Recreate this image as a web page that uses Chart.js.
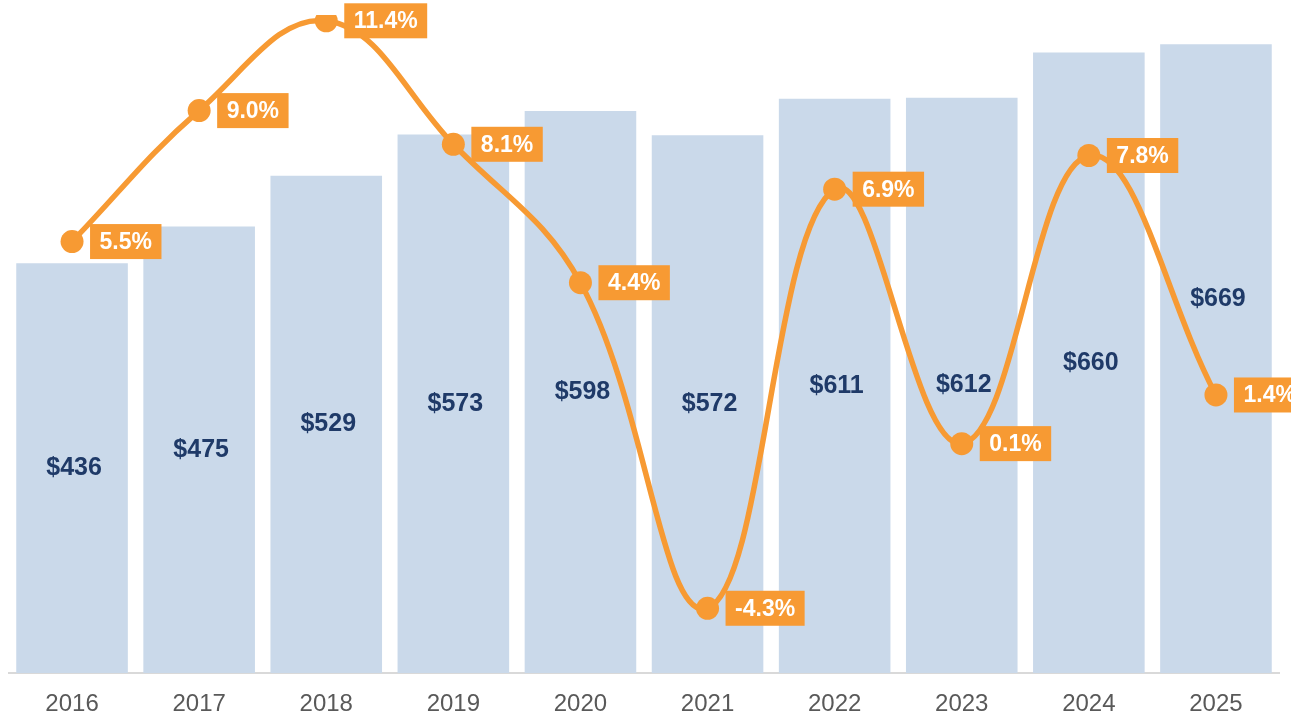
<!DOCTYPE html>
<html>
<head>
<meta charset="utf-8">
<script src="https://cdn.jsdelivr.net/npm/chart.js@4/dist/chart.umd.min.js"></script>
<style>
  html, body { margin: 0; padding: 0; background: #fff; overflow: hidden; }
  #wrap { width: 1294px; height: 715px; position: relative; left: -3px; }
</style>
</head>
<body>
<div id="wrap"><canvas id="salesChart"></canvas></div>
<script>
// --- data ---
const years = ['2016', '2017', '2018', '2019', '2020', '2021', '2022', '2023', '2024', '2025'];
const sales = [436, 475, 529, 573, 598, 572, 611, 612, 660, 669];
const growth = [5.5, 9.0, 11.4, 8.1, 4.4, -4.3, 6.9, 0.1, 7.8, 1.4];

const ORANGE = '#F79A33';
const BAR_BLUE = '#CAD9EA';
const NAVY = '#1F3A68';
const FONT = "'Liberation Sans', Arial, sans-serif";

// --- value labels drawn on top of the bars and the line points ---
const valueLabels = {
    id: 'valueLabels',
    afterDatasetsDraw(chart) {
        const ctx = chart.ctx;
        ctx.save();

        // bar labels ($ values), centred in each bar
        const barMeta = chart.getDatasetMeta(1);
        ctx.font = 'bold 25px ' + FONT;
        ctx.fillStyle = NAVY;
        ctx.textAlign = 'center';
        ctx.textBaseline = 'middle';
        barMeta.data.forEach((bar, i) => {
            let y = (bar.y + bar.base) / 2;
            // last label sits higher so it clears the 1.4% tag
            if (i === barMeta.data.length - 1) y = bar.base - (bar.base - bar.y) * 0.595;
            ctx.fillText('$' + sales[i], bar.x + 2, y);
        });

        // growth tags: orange box to the right of each point
        const lineMeta = chart.getDatasetMeta(0);
        ctx.font = 'bold 23px ' + FONT;
        ctx.textAlign = 'left';
        lineMeta.data.forEach((pt, i) => {
            const txt = growth[i].toFixed(1) + '%';
            const w = ctx.measureText(txt).width + 19;
            const h = 35;
            const x = pt.x + 18;
            const y = pt.y - h / 2;
            ctx.fillStyle = ORANGE;
            ctx.fillRect(x, y, w, h);
            ctx.fillStyle = '#ffffff';
            ctx.fillText(txt, x + 9.5, pt.y + 1);
        });

        ctx.restore();
    }
};

new Chart(document.getElementById('salesChart'), {
    data: {
        labels: years,
        datasets: [
            {
                type: 'line',
                label: 'Growth',
                data: growth,
                yAxisID: 'yPct',
                borderColor: ORANGE,
                backgroundColor: ORANGE,
                borderWidth: 5.5,
                tension: 0.4,
                pointRadius: 11.5,
                pointHoverRadius: 11.5,
                pointBackgroundColor: ORANGE,
                pointBorderWidth: 0,
                order: 0
            },
            {
                type: 'bar',
                label: 'Sales',
                data: sales,
                yAxisID: 'ySales',
                backgroundColor: BAR_BLUE,
                barPercentage: 0.878,
                categoryPercentage: 1.0,
                order: 1
            }
        ]
    },
    options: {
        responsive: true,
        maintainAspectRatio: false,
        animation: false,
        layout: { padding: { top: 15, left: 8, right: 11, bottom: 0 } },
        plugins: {
            legend: { display: false },
            tooltip: { enabled: false }
        },
        scales: {
            x: {
                grid: { display: false, drawTicks: false },
                border: { display: true, color: '#D9D9D9', width: 2 },
                ticks: {
                    color: '#595959',
                    font: { family: FONT, size: 24 },
                    padding: 17
                },
                afterFit(scale) { scale.height = 42; }
            },
            ySales: {
                display: false,
                min: 0,
                max: 700
            },
            yPct: {
                display: false,
                position: 'right',
                min: -6.03,
                max: 11.555
            }
        }
    },
    plugins: [valueLabels]
});
</script>
</body>
</html>
